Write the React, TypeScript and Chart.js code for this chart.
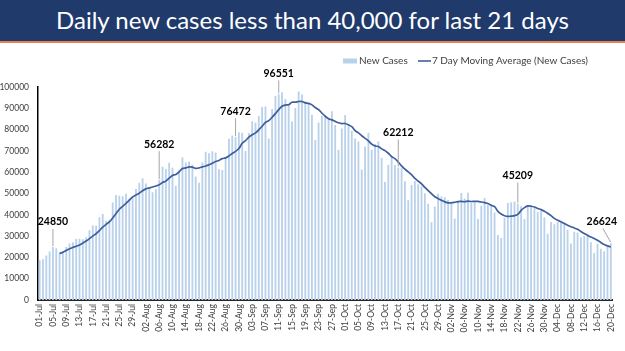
import { useEffect, useRef } from 'react';
import { Chart, registerables } from 'chart.js';

Chart.register(...registerables);

// ---- data ----
const monthNames = ['Jul', 'Aug', 'Sep', 'Oct', 'Nov', 'Dec'];
const monthDayCounts = [31, 31, 30, 31, 30, 20];

const julCases = [18653, 19148, 20903, 22771, 24850, 24248, 22252, 22752, 24879, 26506, 27114, 28637, 28701, 28498, 29429, 32695, 34956, 34884, 38902, 40425, 37148, 37724, 45720, 49310, 48916, 48661, 49931, 47703, 48513, 52123, 55078];
const augCases = [57118, 54735, 52972, 50629, 52050, 56282, 62538, 61537, 64399, 62064, 53601, 60963, 66999, 64553, 65002, 63490, 57981, 55079, 64531, 69652, 68898, 69878, 69239, 61408, 60975, 67151, 75760, 77266, 76472, 78761, 78512];
const sepCases = [69921, 78357, 83883, 83341, 86432, 90632, 90802, 75809, 89706, 95735, 96551, 97570, 94372, 92071, 83809, 90123, 97894, 96424, 93337, 92605, 86961, 75083, 83347, 86508, 86052, 85362, 88600, 82170, 70589, 80472];
const octCases = [86821, 81484, 79476, 75829, 74442, 61267, 72049, 78524, 70496, 73272, 74383, 66732, 55342, 63509, 67708, 63371, 62212, 61871, 55722, 46790, 54044, 55839, 54366, 53370, 50129, 45148, 36470, 43893, 49881, 48648, 48268];
const novCases = [46963, 45231, 38310, 46253, 50209, 47638, 50357, 45674, 45903, 38073, 44281, 47905, 44878, 44684, 41100, 30548, 29163, 38617, 45576, 45882, 46232, 45209, 44059, 37975, 44376, 44489, 43082, 41322, 41810, 38772];
const decCases = [31118, 36604, 35551, 36595, 36652, 36011, 32981, 26567, 32080, 31521, 29398, 30006, 30254, 27071, 22065, 26382, 24010, 22890, 25152, 26624];

const newCases = [...julCases, ...augCases, ...sepCases, ...octCases, ...novCases, ...decCases];

const categories: string[] = [];
monthNames.forEach((m, i) => {
  for (let d = 1; d <= monthDayCounts[i]; d++) categories.push(String(d).padStart(2, '0') + '-' + m);
});

// 7 day moving average of the new cases (as the Excel trendline does)
const movingAverage = newCases.map((_, i) =>
  i < 6 ? null : newCases.slice(i - 6, i + 1).reduce((a, b) => a + b, 0) / 7
);

const labelledDays = ['05-Jul', '06-Aug', '29-Aug', '11-Sep', '17-Oct', '22-Nov', '20-Dec'];

const yMin = 0;
const yMax = 100000;
const yStep = 10000;

// ---- styles ----
const BAR_COLOR = '#B9D1EA';
const LINE_COLOR = '#3E5F9C';
const TEXT_COLOR = '#404040';
const FONT = 'Lato, "Open Sans", sans-serif';
// label placement: [dx, dy above bar top]
const labelPlacement: Record<string, [number, number]> = {
  '05-Jul': [0, 25],
  '06-Aug': [0, 36],
  '29-Aug': [0, 26],
  '11-Sep': [0, 21],
  '17-Oct': [0, 35],
  '22-Nov': [0, 28],
  '20-Dec': [-9, 22],
};

const overlayPlugin = {
  id: 'overlay',
  afterDatasetsDraw(chart: any) {
    const ctx = chart.ctx;
    const meta = chart.getDatasetMeta(0);
    ctx.save();
    labelledDays.forEach((day) => {
      const idx = categories.indexOf(day);
      const el = meta.data[idx];
      if (!el) return;
      const [dx, dy] = labelPlacement[day];
      const x = el.x;
      const top = el.y;
      const cx = x + dx;
      const cy = top - dy;
      ctx.strokeStyle = '#A6A6A6';
      ctx.lineWidth = 1;
      ctx.beginPath();
      ctx.moveTo(x, top - 1);
      ctx.lineTo(dx === 0 ? x : cx + 1, cy + 7);
      ctx.stroke();
      ctx.fillStyle = '#000000';
      ctx.font = 'bold 10.5px ' + FONT;
      ctx.textAlign = 'center';
      ctx.textBaseline = 'middle';
      ctx.fillText(String(newCases[idx]), cx, cy);
    });
    // legend
    ctx.fillStyle = BAR_COLOR;
    ctx.fillRect(343, 14.5, 14, 5);
    ctx.fillStyle = TEXT_COLOR;
    ctx.font = '10px ' + FONT;
    ctx.textAlign = 'left';
    ctx.textBaseline = 'middle';
    ctx.fillText('New Cases', 359, 17);
    ctx.strokeStyle = LINE_COLOR;
    ctx.lineWidth = 1.6;
    ctx.beginPath();
    ctx.moveTo(418, 17);
    ctx.lineTo(431, 17);
    ctx.stroke();
    ctx.fillText('7 Day Moving Average (New Cases)', 432, 17);
    ctx.restore();
  },
};

export default function App() {
  const canvasRef = useRef<HTMLCanvasElement | null>(null);

  useEffect(() => {
    if (!canvasRef.current) return;
    const chart = new Chart(canvasRef.current, {
      type: 'bar',
      data: {
        labels: categories,
        datasets: [
          {
            type: 'bar',
            label: 'New Cases',
            data: newCases,
            backgroundColor: BAR_COLOR,
            barPercentage: 0.55,
            categoryPercentage: 1,
            order: 2,
          },
          {
            type: 'line',
            label: '7 Day Moving Average (New Cases)',
            data: movingAverage as any,
            borderColor: LINE_COLOR,
            borderWidth: 1.7,
            pointRadius: 0,
            tension: 0.3,
            fill: false,
            order: 1,
          } as any,
        ],
      },
      options: {
        animation: false,
        responsive: false,
        maintainAspectRatio: false,
        layout: { padding: { top: 43, right: 5, left: 0, bottom: 0 } },
        plugins: {
          legend: { display: false },
          tooltip: { enabled: false },
          title: { display: false },
        },
        scales: {
          x: {
            offset: true,
            grid: { display: false, drawTicks: false },
            border: { display: true, color: '#262626', width: 2 },
            ticks: {
              autoSkip: false,
              maxRotation: 90,
              minRotation: 90,
              padding: 4,
              color: TEXT_COLOR,
              font: { family: FONT, size: 8.5 },
              callback: (_v: any, i: number) => (i % 4 === 0 ? categories[i] : ''),
            },
            afterFit: (s: any) => {
              s.height = 51;
            },
          },
          y: {
            min: yMin,
            max: yMax,
            grid: { display: false, drawTicks: false },
            border: { display: true, color: '#000000', width: 1.5 },
            ticks: {
              stepSize: yStep,
              padding: 9,
              color: TEXT_COLOR,
              font: { family: FONT, size: 8.5 },
              callback: (v: any) => String(v),
            },
            afterFit: (s: any) => {
              s.width = 38;
            },
          },
        },
      },
      plugins: [overlayPlugin],
    });
    return () => chart.destroy();
  }, []);

  return (
    <div style={{ position: 'absolute', left: 0, top: 0, width: 625, height: 351, background: '#ffffff', overflow: 'hidden' }}>
      <div
        style={{
          position: 'absolute',
          left: 0,
          top: 0,
          width: 625,
          height: 41,
          background: '#1F3A6B',
          color: '#ffffff',
          fontFamily: FONT,
          fontSize: 24,
          lineHeight: '40px',
          textAlign: 'center',
          whiteSpace: 'nowrap',
        }}
      >
        Daily new cases less than 40,000 for last 21 days
      </div>
      <div style={{ position: 'absolute', left: 0, top: 41, width: 625, height: 2, background: '#E8804F' }} />
      <canvas
        ref={canvasRef}
        width={625}
        height={307}
        style={{ position: 'absolute', left: 0, top: 44, width: 625, height: 307 }}
      />
    </div>
  );
}
